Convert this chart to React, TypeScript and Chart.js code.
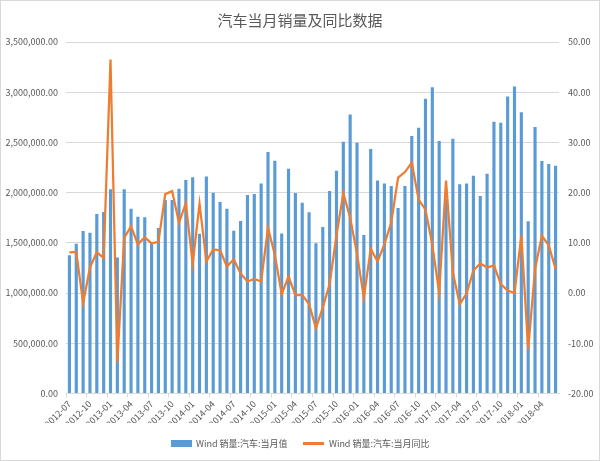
import { useEffect, useRef } from 'react';
import { Chart, registerables } from 'chart.js';

Chart.register(...registerables);

const chartTitle = '汽车当月销量及同比数据';
const barSeriesName = 'Wind 销量:汽车:当月值';
const lineSeriesName = 'Wind 销量:汽车:当月同比';

const months = [
  '2012-07', '2012-08', '2012-09', '2012-10', '2012-11', '2012-12',
  '2013-01', '2013-02', '2013-03', '2013-04', '2013-05', '2013-06',
  '2013-07', '2013-08', '2013-09', '2013-10', '2013-11', '2013-12',
  '2014-01', '2014-02', '2014-03', '2014-04', '2014-05', '2014-06',
  '2014-07', '2014-08', '2014-09', '2014-10', '2014-11', '2014-12',
  '2015-01', '2015-02', '2015-03', '2015-04', '2015-05', '2015-06',
  '2015-07', '2015-08', '2015-09', '2015-10', '2015-11', '2015-12',
  '2016-01', '2016-02', '2016-03', '2016-04', '2016-05', '2016-06',
  '2016-07', '2016-08', '2016-09', '2016-10', '2016-11', '2016-12',
  '2017-01', '2017-02', '2017-03', '2017-04', '2017-05', '2017-06',
  '2017-07', '2017-08', '2017-09', '2017-10', '2017-11', '2017-12',
  '2018-01', '2018-02', '2018-03', '2018-04', '2018-05', '2018-06',
];

// monthly sales (vehicles)
const salesValues = [
  1377000, 1490000, 1617000, 1600000, 1787000, 1807000,
  2034000, 1354000, 2034000, 1840000, 1760000, 1754000,
  1505000, 1647000, 1927000, 1927000, 2040000, 2127000,
  2154000, 1590000, 2160000, 2000000, 1907000, 1840000,
  1620000, 1717000, 1977000, 1987000, 2090000, 2404000,
  2317000, 1594000, 2237000, 1997000, 1900000, 1804000,
  1497000, 1657000, 2017000, 2217000, 2507000, 2777000,
  2497000, 1577000, 2434000, 2120000, 2090000, 2067000,
  1847000, 2067000, 2564000, 2647000, 2934000, 3050000,
  2514000, 1940000, 2537000, 2084000, 2090000, 2167000,
  1967000, 2187000, 2707000, 2697000, 2957000, 3057000,
  2800000, 1714000, 2654000, 2314000, 2284000, 2267000,
];

// year-on-year growth (%)
const yoyValues = [
  8.1, 8.2, -2.0, 5.1, 8.1, 7.0,
  46.5, -13.7, 11.0, 13.3, 9.7, 11.1,
  9.9, 10.2, 19.7, 20.3, 14.0, 17.9,
  5.8, 17.8, 6.3, 8.7, 8.5, 5.3,
  6.7, 3.9, 2.3, 2.8, 2.3, 13.0,
  7.6, -0.2, 3.3, -0.4, -0.4, -2.2,
  -7.0, -2.9, 1.8, 11.5, 19.9, 15.0,
  7.8, -0.9, 8.8, 6.3, 9.7, 14.1,
  23.0, 24.1, 26.0, 18.6, 16.6, 9.6,
  0.1, 22.4, 4.1, -2.2, -0.1, 4.5,
  5.9, 5.1, 5.5, 1.8, 0.5, 0.0,
  11.5, -11.2, 4.8, 11.4, 9.5, 4.8,
];

const leftAxisRange = [0, 3500000, 500000];
const rightAxisRange = [-20, 50, 10];

const BLUE = '#5B9BD5';
const ORANGE = '#ED7D31';
const TEXT = '#595959';
const GRID = '#D9D9D9';
const FONT = '"Noto Sans CJK SC", "Noto Sans", sans-serif';

const fmt2 = new Intl.NumberFormat('en-US', { minimumFractionDigits: 2, maximumFractionDigits: 2 });

function makeIcon(w: number, h: number, color: string) {
  const c = document.createElement('canvas');
  c.width = w;
  c.height = h;
  const ctx = c.getContext('2d')!;
  ctx.fillStyle = color;
  ctx.fillRect(0, 0, w, h);
  return c;
}

export default function App() {
  const canvasRef = useRef<HTMLCanvasElement | null>(null);

  useEffect(() => {
    document.body.style.margin = '0';
    const canvas = canvasRef.current;
    if (!canvas) return;
    const barIcon = makeIcon(21, 7, BLUE);
    const lineIcon = makeIcon(21, 3, ORANGE);

    const chart = new Chart(canvas, {
      type: 'bar',
      data: {
        labels: months,
        datasets: [
          {
            type: 'bar',
            label: barSeriesName,
            data: salesValues,
            backgroundColor: BLUE,
            borderWidth: 0,
            yAxisID: 'y',
            categoryPercentage: 1,
            barPercentage: 0.46,
            order: 2,
          },
          {
            type: 'line',
            label: lineSeriesName,
            data: yoyValues,
            borderColor: ORANGE,
            backgroundColor: ORANGE,
            borderWidth: 2.25,
            pointRadius: 0,
            tension: 0,
            yAxisID: 'y1',
            order: 1,
          },
        ],
      } as any,
      options: {
        responsive: false,
        animation: false,
        layout: { padding: { top: 0, left: 0, right: 0, bottom: 3 } },
        font: { family: FONT },
        plugins: {
          tooltip: { enabled: false },
          title: {
            display: true,
            text: chartTitle,
            color: TEXT,
            font: { family: FONT, size: 15, weight: 'normal' },
            padding: { top: 11, bottom: 13 },
          },
          legend: {
            display: true,
            position: 'bottom',
            labels: {
              color: TEXT,
              font: { family: FONT, size: 9 },
              usePointStyle: true,
              pointStyleWidth: 21,
              boxHeight: 7,
              padding: 16,
              generateLabels: () => [
                {
                  text: barSeriesName,
                  pointStyle: barIcon,
                  fillStyle: BLUE,
                  strokeStyle: BLUE,
                  lineWidth: 0,
                  hidden: false,
                  datasetIndex: 0,
                  fontColor: TEXT,
                } as any,
                {
                  text: lineSeriesName,
                  pointStyle: lineIcon,
                  fillStyle: ORANGE,
                  strokeStyle: ORANGE,
                  lineWidth: 0,
                  hidden: false,
                  datasetIndex: 1,
                  fontColor: TEXT,
                } as any,
              ],
            },
          },
        },
        scales: {
          x: {
            offset: true,
            grid: {
              display: true,
              offset: true,
              drawOnChartArea: false,
              drawTicks: true,
              tickLength: 4,
              color: (ctx: any) => (ctx.index % 3 === 0 ? GRID : 'rgba(0,0,0,0)'),
              tickColor: (ctx: any) => (ctx.index % 3 === 0 ? GRID : 'rgba(0,0,0,0)'),
            },
            border: { display: true, color: GRID, width: 1 },
            ticks: {
              autoSkip: false,
              maxRotation: 45,
              minRotation: 45,
              padding: 1,
              color: TEXT,
              font: { family: FONT, size: 9 },
              callback: (_v: any, i: number) => (i % 3 === 0 ? months[i] : ''),
            },
            afterFit: (scale: any) => {
              scale.height = 29.5;
            },
          },
          y: {
            position: 'left',
            min: leftAxisRange[0],
            max: leftAxisRange[1],
            grid: { color: GRID, lineWidth: 1, drawTicks: false },
            border: { display: false },
            ticks: {
              stepSize: leftAxisRange[2],
              padding: 8,
              color: TEXT,
              font: { family: FONT, size: 9 },
              callback: (v: any) => fmt2.format(Number(v)),
            },
            afterFit: (scale: any) => {
              scale.width = 66;
            },
          },
          y1: {
            position: 'right',
            min: rightAxisRange[0],
            max: rightAxisRange[1],
            grid: { drawOnChartArea: false, drawTicks: false },
            border: { display: false },
            ticks: {
              stepSize: rightAxisRange[2],
              padding: 9,
              color: TEXT,
              font: { family: FONT, size: 9 },
              callback: (v: any) => fmt2.format(Number(v)),
            },
            afterFit: (scale: any) => {
              scale.width = 41;
            },
          },
        },
      } as any,
    });

    return () => {
      chart.destroy();
    };
  }, []);

  return (
    <div style={{ position: 'relative', width: 600, height: 461, background: '#fff' }}>
      <canvas ref={canvasRef} width={600} height={461} style={{ display: 'block' }} />
      <div
        style={{
          position: 'absolute',
          left: 0,
          top: 0,
          width: 600,
          height: 461,
          boxSizing: 'border-box',
          border: '1px solid #D9D9D9',
          pointerEvents: 'none',
        }}
      />
    </div>
  );
}
